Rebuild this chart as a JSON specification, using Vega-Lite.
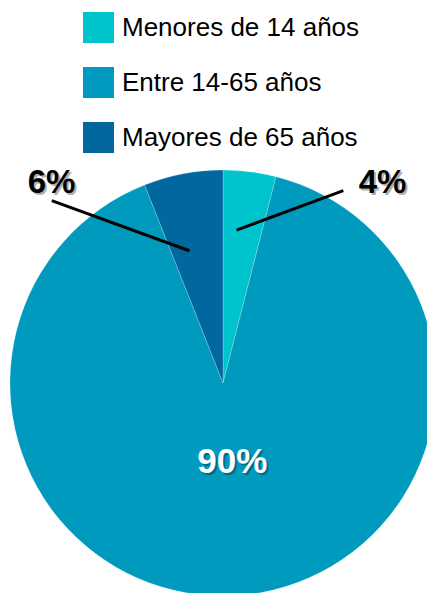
{
  "$schema": "https://vega.github.io/schema/vega-lite/v6.json",
  "width": 427,
  "height": 593,
  "autosize": "none",
  "padding": 0,
  "background": "white",
  "config": {"view": {"stroke": null}},
  "datasets": {
    "grupos": [
      {"grupo": "Menores de 14 años", "pct": 4, "orden": 1},
      {"grupo": "Entre 14-65 años", "pct": 90, "orden": 2},
      {"grupo": "Mayores de 65 años", "pct": 6, "orden": 3}
    ],
    "etiquetas": [
      {"texto": "6%", "px": -0.805, "py": 0.892, "dentro": false},
      {"texto": "4%", "px": 0.749, "py": 0.892, "dentro": false},
      {"texto": "90%", "px": 0.044, "py": -0.4225, "dentro": true}
    ],
    "guias": [
      {"grupo": "Mayores de 65 años", "ax": -0.804, "ay": 0.856, "bx": -0.158, "by": 0.621},
      {"grupo": "Menores de 14 años", "ax": 0.565, "ay": 0.903, "bx": 0.064, "by": 0.718}
    ]
  },
  "layer": [
    {
      "data": {"name": "grupos"},
      "transform": [
        {"stack": "pct", "groupby": [], "sort": [{"field": "orden"}], "as": ["t0", "t1"]}
      ],
      "mark": {"type": "arc", "outerRadius": 213, "stroke": "#FFFFFF", "strokeWidth": 0.6, "strokeOpacity": 0.35},
      "encoding": {
        "x": {"datum": 0, "type": "quantitative", "scale": {"domain": [-1.0469, 0.9577], "nice": false, "zero": false}, "axis": null},
        "y": {"datum": 0, "type": "quantitative", "scale": {"domain": [-0.9859, 1.7981], "nice": false, "zero": false}, "axis": null},
        "theta": {"field": "t0", "type": "quantitative", "stack": null, "scale": {"domain": [0, 100]}},
        "theta2": {"field": "t1"},
        "color": {
          "field": "grupo",
          "type": "nominal",
          "scale": {
            "domain": ["Menores de 14 años", "Entre 14-65 años", "Mayores de 65 años"],
            "range": ["#00C4CD", "#009ABE", "#00679F"]
          },
          "legend": {
            "orient": "none",
            "legendX": 83,
            "legendY": 12,
            "title": null,
            "symbolType": "square",
            "symbolSize": 961,
            "symbolStrokeWidth": 0,
            "symbolOpacity": 1,
            "labelFontSize": 26,
            "labelFont": "Liberation Sans",
            "labelColor": "#000000",
            "labelLimit": 400,
            "labelOffset": 8,
            "rowPadding": 24,
            "padding": 0
          }
        }
      }
    },
    {
      "data": {"name": "guias"},
      "mark": {"type": "rule", "strokeWidth": 3, "color": "#000000", "strokeCap": "butt"},
      "encoding": {
        "x": {"field": "ax", "type": "quantitative", "scale": {"domain": [-1.0469, 0.9577], "nice": false, "zero": false}, "axis": null},
        "y": {"field": "ay", "type": "quantitative", "scale": {"domain": [-0.9859, 1.7981], "nice": false, "zero": false}, "axis": null},
        "x2": {"field": "bx"},
        "y2": {"field": "by"}
      }
    },
    {
      "data": {"name": "etiquetas"},
      "mark": {"type": "text", "font": "Liberation Sans", "fontWeight": "bold", "align": "center", "baseline": "alphabetic", "dx": 2, "dy": 2, "fill": "#000000", "opacity": 0.3},
      "encoding": {
        "x": {"field": "px", "type": "quantitative", "scale": {"domain": [-1.0469, 0.9577], "nice": false, "zero": false}, "axis": null},
        "y": {"field": "py", "type": "quantitative", "scale": {"domain": [-0.9859, 1.7981], "nice": false, "zero": false}, "axis": null},
        "text": {"field": "texto"},
        "size": {"condition": {"test": "datum.dentro", "value": 35}, "value": 33}
      }
    },
    {
      "data": {"name": "etiquetas"},
      "mark": {"type": "text", "font": "Liberation Sans", "fontWeight": "bold", "align": "center", "baseline": "alphabetic"},
      "encoding": {
        "x": {"field": "px", "type": "quantitative", "scale": {"domain": [-1.0469, 0.9577], "nice": false, "zero": false}, "axis": null},
        "y": {"field": "py", "type": "quantitative", "scale": {"domain": [-0.9859, 1.7981], "nice": false, "zero": false}, "axis": null},
        "text": {"field": "texto"},
        "size": {"condition": {"test": "datum.dentro", "value": 35}, "value": 33},
        "color": {"condition": {"test": "datum.dentro", "value": "#FFFFFF"}, "value": "#000000"}
      }
    }
  ]
}
